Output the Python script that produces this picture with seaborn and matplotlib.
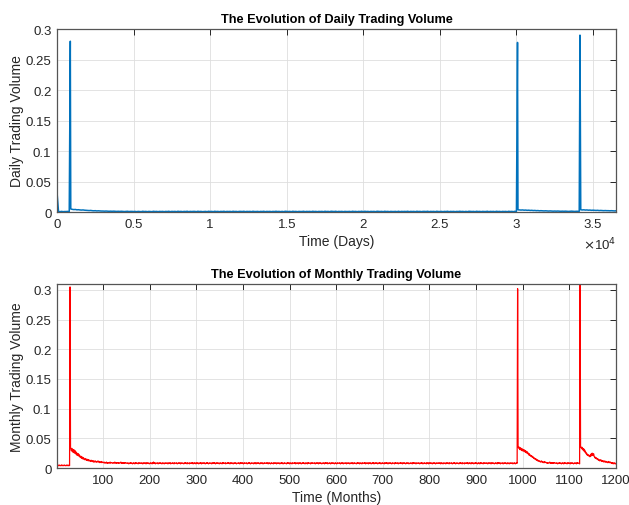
import numpy as np
import pandas as pd
import matplotlib
matplotlib.use("Agg")
import matplotlib.pyplot as plt
import seaborn as sns

# ---------------------------------------------------------------------------
# Monthly trading volume, months 1..1200, one base-36 character per month in
# units of 0.001 (groups of ten months, five groups per line).
monthly_levels = """
z454454445 4544455444 54454454zz wtxsuqvrpt ormpnlokmj
ikhjgifhge fgedfdeced cdbcdbccac bacbababca ab9aab9aa9
9a9899a898 9989a89998 8998a98989 9898899a89 8989898998
8898788989 8878988798 9888798898 8898789889 8798898878
8988798a88 9788898789 8898878988 7898889878 9889788898
8798889878 8988978898 8878989887 9888798889 8978898879
8898788989 7889889878 8989878898 8879889898 7898898878
9888798988 8978889898 8798898878 9889878889 8879898898
7898889878 8989878898 8879889789 8898878988 9878898889
8897898878 9888798898 8798889878 8989878898 8878989887
9888798889 8978898879 8898788989 8878988798 9888798898
8898789889 8798898878 8988798988 9788898789 8898878988
7898889878 9889788898 8798889878 8988978898 8878989887
9888798889 8978898879 8898788989 7889889878 8989878898
8879889898 7898898878 9888798988 8978889898 8798898878
9889878889 8879898898 7898889878 8989878898 8879889789
8898878988 9878898889 8897898878 9888798898 8798889878
8989878898 8878989887 9888798889 8978898879 8898788989
8878988798 9888798898 8898789889 8798898878 8988798988
9788898789 8898878988 7898889878 89878898zz zxzvywuxtv
tvsurtqspr opmolmkljk ijhghfgefd ecdcbcbabc aba9ab9aa9
9898899a89 8989898998 8898788989 8878988798 9888798898
8798898878 8988798988 87zzzxzvxu wsuqropmnl mkljmkolpn
lokjhighfg efdecdecdb cbcabcabab a9ab9a9a98 9897898787
"""
monthly_unit = 0.001
monthly_peak_months = [1, 29, 989, 1123]
monthly_peak_values = [0.038, 0.305, 0.302, 0.325]

# Daily trading volume sampled every 100 days (days 0..36500), base-36 in
# units of 0.0002, plus the single-day peaks.
daily_levels = """
543534453p mklijhghfe dcdbab9a98 8787676765 6565456455
4535436453 5436453545 3546354536 4535463545 5364534536
4536453546 3545364535 5463545364 4535463545 3546453536
5453645354 4635453645 3545364536 5463545354 4536453546
3645354536 5453645354 4536354546 3545364535 5463545364
4535463545 3546453536 5453645354 4635453645 3545364536
5ihghfgefd ecdbcaba9a 9898787876 7676567656 65ihighfge
fedecdcbcb baba9a
"""
daily_unit = 0.0002
daily_step = 100
daily_peak_days = [0, 870, 30070, 34150]
daily_peak_values = [0.033, 0.28, 0.278, 0.29]

day_ticks = [0, 5000, 10000, 15000, 20000, 25000, 30000, 35000]
day_tick_labels = ["0", "0.5", "1", "1.5", "2", "2.5", "3", "3.5"]
month_ticks = [100, 200, 300, 400, 500, 600, 700, 800, 900, 1000, 1100, 1200]
volume_ticks = [0, 0.05, 0.1, 0.15, 0.2, 0.25, 0.3]
volume_tick_labels = ["0", "0.05", "0.1", "0.15", "0.2", "0.25", "0.3"]


def decode(text, unit):
    chars = "".join(text.split())
    return np.array([int(c, 36) for c in chars], dtype=float) * unit


# monthly table
m_vals = decode(monthly_levels, monthly_unit)
monthly = pd.DataFrame({"month": np.arange(1, len(m_vals) + 1), "volume": m_vals})
for m, v in zip(monthly_peak_months, monthly_peak_values):
    monthly.loc[monthly["month"] == m, "volume"] = v

# daily table
d_vals = decode(daily_levels, daily_unit)
daily = pd.DataFrame({"day": np.arange(len(d_vals)) * daily_step, "volume": d_vals})
daily = daily[~daily["day"].isin(daily_peak_days)]
daily = pd.concat([daily, pd.DataFrame({"day": daily_peak_days,
                                        "volume": daily_peak_values})])
daily = daily.sort_values("day").reset_index(drop=True)

# ---------------------------------------------------------------------------
sns.set_style("white")
plt.rcParams["font.family"] = ["Liberation Sans", "DejaVu Sans"]
plt.rcParams["axes.unicode_minus"] = False

ink = "#262626"
fig = plt.figure(figsize=(6.29, 5.06), dpi=100)
ax1 = fig.add_axes([0.0906, 0.579, 0.8887, 0.3617])
ax2 = fig.add_axes([0.0906, 0.0731, 0.8887, 0.3637])

sns.lineplot(data=daily, x="day", y="volume", ax=ax1, color="#0072BD",
             linewidth=1.1, estimator=None, sort=False)
sns.lineplot(data=monthly, x="month", y="volume", ax=ax2, color="#FF0000",
             linewidth=0.9, estimator=None, sort=False)

ax1.set_xlim(0, 36500)
ax1.set_ylim(0, 0.3)
ax1.set_xticks(day_ticks)
ax1.set_xticklabels(day_tick_labels)
ax1.set_yticks(volume_ticks)
ax1.set_yticklabels(volume_tick_labels)
ax1.set_title("The Evolution of Daily Trading Volume", fontsize=9.2,
              fontweight="bold", color="black", pad=5)
ax1.set_xlabel("Time (Days)", fontsize=10, color=ink, labelpad=3)
ax1.set_ylabel("Daily Trading Volume", fontsize=10, color=ink, labelpad=1)
ax1.text(1.0, -0.175, r"$\times$10$^{4}$", transform=ax1.transAxes,
         ha="right", va="center", fontsize=9.5, color=ink)

ax2.set_xlim(1, 1200)
ax2.set_ylim(0, 0.31)
ax2.set_xticks(month_ticks)
ax2.set_yticks(volume_ticks)
ax2.set_yticklabels(volume_tick_labels)
ax2.set_title("The Evolution of Monthly Trading Volume", fontsize=9.2,
              fontweight="bold", color="black", pad=5)
ax2.set_xlabel("Time (Months)", fontsize=10, color=ink, labelpad=3)
ax2.set_ylabel("Monthly Trading Volume", fontsize=10, color=ink, labelpad=1)

for ax in (ax1, ax2):
    ax.grid(True, color="#dedede", linewidth=0.6)
    ax.set_axisbelow(True)
    ax.tick_params(direction="in", top=True, right=True, length=4,
                   width=0.7, color=ink, labelsize=9.5, labelcolor=ink, pad=4)
    for sp in ax.spines.values():
        sp.set_color("#555555")
        sp.set_linewidth(0.9)

fig.savefig("out.png", dpi=100, facecolor="white")
